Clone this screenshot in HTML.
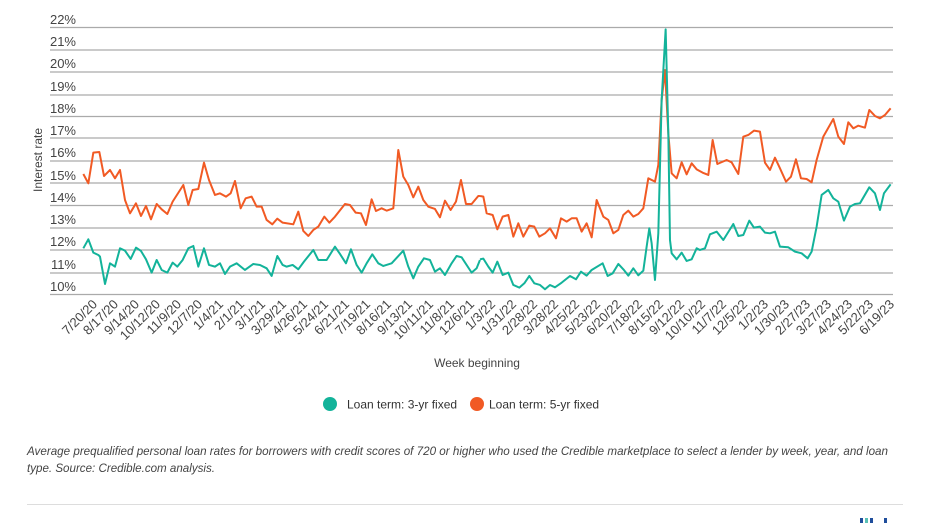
<!DOCTYPE html>
<html><head><meta charset="utf-8"><style>
html,body{margin:0;padding:0;background:#fff;}
body{width:931px;height:523px;overflow:hidden;font-family:"Liberation Sans",sans-serif;}
</style></head><body>
<svg width="931" height="523" viewBox="0 0 931 523" xmlns="http://www.w3.org/2000/svg" font-family="Liberation Sans, sans-serif">
<g stroke="#aaa" stroke-width="1.3">
<line x1="50" x2="893" y1="27.5" y2="27.5"/><line x1="50" x2="893" y1="50" y2="50"/><line x1="50" x2="893" y1="72" y2="72"/><line x1="50" x2="893" y1="95" y2="95"/><line x1="50" x2="893" y1="116.5" y2="116.5"/><line x1="50" x2="893" y1="138" y2="138"/><line x1="50" x2="893" y1="161" y2="161"/><line x1="50" x2="893" y1="183" y2="183"/><line x1="50" x2="893" y1="205.5" y2="205.5"/><line x1="50" x2="893" y1="228" y2="228"/><line x1="50" x2="893" y1="250" y2="250"/><line x1="50" x2="893" y1="273" y2="273"/><line x1="50" x2="893" y1="294.5" y2="294.5"/>
</g>
<g font-size="13" fill="#444" text-anchor="end">
<text x="76" y="24">22%</text><text x="76" y="46">21%</text><text x="76" y="68">20%</text><text x="76" y="91">19%</text><text x="76" y="113">18%</text><text x="76" y="135">17%</text><text x="76" y="157">16%</text><text x="76" y="180">15%</text><text x="76" y="202">14%</text><text x="76" y="224">13%</text><text x="76" y="246">12%</text><text x="76" y="269">11%</text><text x="76" y="291">10%</text>
</g>
<text transform="translate(42,160) rotate(-90)" font-size="12" fill="#444" text-anchor="middle">Interest rate</text>
<g fill="none" stroke="#f15a24" stroke-width="2" stroke-linejoin="round">
<polyline vector-effect="non-scaling-stroke" transform="translate(60,0) scale(0.3333)" points="70,522 85,550 100,458 118,456 132,528 150,510 165,535 180,510 195,600 210,640 228,610 243,648 258,618 273,658 290,612 305,628 322,642 338,605 370,555 385,615 398,570 415,567 432,488 447,540 465,585 480,580 498,590 512,580 525,543 542,625 557,595 575,590 590,620 605,620 620,660 637,673 652,656 668,668 700,673 715,635 730,693 745,708 760,690 775,680 793,650 808,668 825,650 855,612 870,615 887,638 903,640 918,675 935,598 948,633 965,625 980,632 1000,625 1015,450 1030,530 1045,555 1060,592 1075,560 1090,600 1105,620 1125,627 1140,652 1155,602 1172,630 1188,605 1203,540 1218,612 1235,612 1255,588 1260,588"/>
<polyline vector-effect="non-scaling-stroke" transform="translate(480,0) scale(0.3333)" points="0,588 10,590 20,640 38,645 52,688 68,650 85,645 100,710 115,670 130,710 148,677 163,680 178,710 195,700 210,685 228,715 243,655 260,665 275,655 290,655 305,695 320,670 335,712 350,600 370,650 385,660 400,700 415,690 430,645 445,632 460,650 475,642 490,625 505,535 525,545 535,495 545,300 555,210 565,400 575,520 590,535 605,487 620,523 635,490 650,508 668,518 685,525 698,420 712,492 740,480 755,487 775,522 790,410 805,405 822,392 840,395 855,488 870,510 885,473 900,505 918,545 933,530 948,478 963,535 980,537 995,547 1010,480 1030,410 1060,357 1075,410 1092,432 1105,367 1120,385 1135,377 1155,383 1168,330 1185,348 1200,355 1215,345 1232,325"/>
</g>
<g fill="none" stroke="#13b39a" stroke-width="2" stroke-linejoin="round">
<polyline vector-effect="non-scaling-stroke" transform="translate(60,0) scale(0.3333)" points="70,745 85,718 100,758 115,765 120,770 135,852 150,790 165,800 180,745 195,752 212,777 228,743 243,753 258,778 275,818 290,780 305,810 322,818 338,788 352,800 368,780 385,745 400,738 415,800 432,745 447,795 465,800 480,790 495,822 510,800 530,790 555,810 580,792 600,795 620,805 635,828 652,768 668,795 680,800 698,795 715,808 732,785 760,750 775,780 800,780 825,740 840,762 858,790 873,748 890,795 905,818 920,790 937,763 955,790 970,798 995,790 1030,752 1045,800 1060,835 1075,800 1092,775 1110,780 1125,815 1140,805 1155,825 1175,790 1190,768 1205,772 1235,818 1250,805 1260,780"/>
<polyline vector-effect="non-scaling-stroke" transform="translate(480,0) scale(0.3333)" points="0,778 10,776 25,800 38,818 52,785 68,825 85,818 100,855 118,863 133,850 148,828 163,850 180,855 195,868 210,855 225,862 245,848 270,828 288,838 303,815 320,827 335,810 368,790 383,828 398,820 415,792 430,808 445,827 460,805 475,826 490,812 500,740 508,685 515,730 525,840 535,700 545,300 557,88 565,400 570,720 575,760 590,778 605,758 620,783 635,778 650,745 660,750 675,745 690,703 710,695 730,720 760,672 775,708 790,705 808,662 822,683 840,680 855,698 870,700 885,695 900,740 925,742 945,755 965,760 983,775 995,755 1010,680 1025,585 1045,570 1060,595 1075,605 1092,662 1110,620 1125,612 1140,610 1168,562 1185,580 1200,630 1212,580 1232,553"/>
</g>
<g font-size="13" fill="#444" text-anchor="end">
<text transform="translate(98,305) rotate(-45)">7/20/20</text>
<text transform="translate(119,305) rotate(-45)">8/17/20</text>
<text transform="translate(140,305) rotate(-45)">9/14/20</text>
<text transform="translate(161,305) rotate(-45)">10/12/20</text>
<text transform="translate(182,305) rotate(-45)">11/9/20</text>
<text transform="translate(203,305) rotate(-45)">12/7/20</text>
<text transform="translate(224,305) rotate(-45)">1/4/21</text>
<text transform="translate(245,305) rotate(-45)">2/1/21</text>
<text transform="translate(266,305) rotate(-45)">3/1/21</text>
<text transform="translate(287,305) rotate(-45)">3/29/21</text>
<text transform="translate(308,305) rotate(-45)">4/26/21</text>
<text transform="translate(329,305) rotate(-45)">5/24/21</text>
<text transform="translate(350,305) rotate(-45)">6/21/21</text>
<text transform="translate(371,305) rotate(-45)">7/19/21</text>
<text transform="translate(392,305) rotate(-45)">8/16/21</text>
<text transform="translate(413,305) rotate(-45)">9/13/21</text>
<text transform="translate(434,305) rotate(-45)">10/11/21</text>
<text transform="translate(455,305) rotate(-45)">11/8/21</text>
<text transform="translate(475,305) rotate(-45)">12/6/21</text>
<text transform="translate(496,305) rotate(-45)">1/3/22</text>
<text transform="translate(517,305) rotate(-45)">1/31/22</text>
<text transform="translate(538,305) rotate(-45)">2/28/22</text>
<text transform="translate(559,305) rotate(-45)">3/28/22</text>
<text transform="translate(580,305) rotate(-45)">4/25/22</text>
<text transform="translate(601,305) rotate(-45)">5/23/22</text>
<text transform="translate(622,305) rotate(-45)">6/20/22</text>
<text transform="translate(643,305) rotate(-45)">7/18/22</text>
<text transform="translate(664,305) rotate(-45)">8/15/22</text>
<text transform="translate(685,305) rotate(-45)">9/12/22</text>
<text transform="translate(706,305) rotate(-45)">10/10/22</text>
<text transform="translate(727,305) rotate(-45)">11/7/22</text>
<text transform="translate(748,305) rotate(-45)">12/5/22</text>
<text transform="translate(769,305) rotate(-45)">1/2/23</text>
<text transform="translate(790,305) rotate(-45)">1/30/23</text>
<text transform="translate(811,305) rotate(-45)">2/27/23</text>
<text transform="translate(832,305) rotate(-45)">3/27/23</text>
<text transform="translate(853,305) rotate(-45)">4/24/23</text>
<text transform="translate(874,305) rotate(-45)">5/22/23</text>
<text transform="translate(895,305) rotate(-45)">6/19/23</text>
</g>
<text x="477" y="367" font-size="12" fill="#444" text-anchor="middle">Week beginning</text>
<circle cx="330" cy="404" r="7" fill="#13b39a"/>
<text x="347" y="408.5" font-size="12" fill="#333">Loan term: 3-yr fixed</text>
<circle cx="477" cy="404" r="7" fill="#f15a24"/>
<text x="489" y="408.5" font-size="12" fill="#333">Loan term: 5-yr fixed</text>
<g font-size="12" fill="#444" font-style="italic">
<text x="27" y="455" textLength="861" lengthAdjust="spacingAndGlyphs">Average prequalified personal loan rates for borrowers with credit scores of 720 or higher who used the Credible marketplace to select a lender by week, year, and loan</text>
<text x="27" y="472" textLength="188" lengthAdjust="spacingAndGlyphs">type. Source: Credible.com analysis.</text>
</g>
<line x1="27" x2="903" y1="504.5" y2="504.5" stroke="#ddd" stroke-width="1"/>
<rect x="860" y="518" width="3" height="5" fill="#1f4e9c"/>
<rect x="865" y="518" width="3" height="5" fill="#5bc0b5"/>
<rect x="870" y="518" width="3" height="5" fill="#1f4e9c"/>
<rect x="884" y="518" width="3" height="5" fill="#1f4e9c"/>
</svg>
</body></html>
